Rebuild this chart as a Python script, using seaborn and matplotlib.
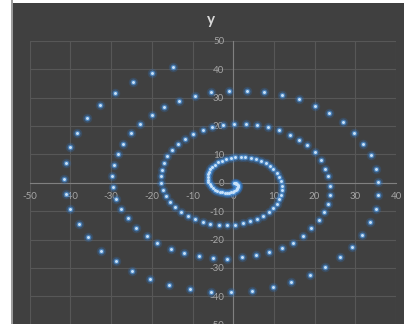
import matplotlib
matplotlib.use("Agg")
import matplotlib.pyplot as plt
from matplotlib.patches import Rectangle
import pandas as pd
import seaborn as sns

# Spiral points, ordered from the centre outwards (clockwise winding)
x_inner = [
    0.1, 0.4, 0.6, 0.8, 1.0, 1.1, 1.1, 1.1, 1.0, 0.9, 0.6, 0.3,
    -0.1, -0.5, -1.0, -1.6, -2.1, -2.7, -3.3, -3.9, -4.5, -5.0, -5.4, -5.8,
    -6.1, -6.2, -6.3, -6.2, -6.0, -5.6, -5.1, -4.4, -3.7, -2.8, -1.8, -0.6,
    0.5, 1.8, 3.0, 4.3, 5.6, 6.8, 8.0, 9.0, 9.9, 10.7, 11.3, 11.8,
    12.0, 12.0, 11.8, 11.3, 10.7, 9.8, 8.7, 7.3, 5.8, 4.2, 2.4, 0.5,
    -1.5, -3.5, -5.6, -7.5, -9.4, -11.2, -12.9, -14.4, -15.6, -16.6, -17.3, -17.7,
    -17.8, -17.6, -17.1, -16.2, -15.1, -13.6, -11.8, -9.8, -7.5, -5.1, -2.5,
]
y_inner = [
    0.0, -0.1, -0.2, -0.3, -0.6, -0.8, -1.2, -1.5, -1.8, -2.2, -2.5, -2.8,
    -3.1, -3.3, -3.5, -3.5, -3.5, -3.4, -3.2, -2.8, -2.4, -1.9, -1.3, -0.5,
    0.2, 1.1, 2.0, 2.9, 3.8, 4.7, 5.6, 6.4, 7.2, 7.8, 8.4, 8.8,
    9.0, 9.1, 9.1, 8.8, 8.3, 7.7, 6.9, 5.9, 4.8, 3.5, 2.1, 0.6,
    -1.0, -2.6, -4.2, -5.9, -7.5, -9.0, -10.4, -11.7, -12.7, -13.6, -14.3, -14.8,
    -14.9, -14.8, -14.5, -13.8, -12.9, -11.7, -10.3, -8.6, -6.7, -4.7, -2.5, -0.2,
    2.2, 4.6, 7.0, 9.3, 11.5, 13.6, 15.5, 17.1, 18.5, 19.6, 20.3,
]
x_outer = [
    0.2, 3.1, 5.8, 8.6, 11.3, 13.9, 16.1, 18.2, 20.0, 21.6, 22.6, 23.4,
    23.9, 23.9, 23.3, 22.4, 21.1, 19.1, 17.1, 14.7, 11.9, 8.9, 5.7, 2.1,
    -1.5, -5.0, -8.5, -12.0, -15.2, -18.6, -21.2, -23.8, -25.9, -27.5, -28.7, -29.5,
    -29.8, -29.3, -28.4, -27.0, -25.2, -22.9, -20.0, -16.9, -13.3, -9.4, -5.4,
    -1.1, 3.4, 7.6, 11.9, 16.1, 20.0, 23.6, 26.9, 29.7, 32.0, 33.8, 35.0,
    35.6, 35.6, 35.0, 33.5, 31.7, 29.3, 26.2, 22.6, 18.8, 14.3, 9.7, 4.6,
    -0.5, -5.5, -10.6, -15.8, -20.4, -24.8, -28.9, -32.5, -35.6, -38.0, -40.0, -41.1,
    -41.5, -41.2, -40.2, -38.4, -36.0, -32.8, -29.1, -24.7, -20.0, -14.7,
]
y_outer = [
    20.7, 20.7, 20.4, 19.6, 18.4, 16.9, 15.2, 13.2, 10.9, 7.9, 5.0, 2.2,
    -1.1, -4.2, -7.4, -10.3, -13.3, -16.0, -18.7, -21.1, -22.9, -24.5, -25.5, -26.3,
    -26.7, -26.4, -25.9, -24.7, -23.2, -21.3, -18.7, -15.8, -12.5, -9.1, -5.6, -1.6,
    2.2, 6.3, 10.0, 13.8, 17.5, 20.7, 24.0, 26.5, 28.8, 30.5, 31.8,
    32.4, 32.4, 32.0, 30.9, 29.5, 27.0, 24.4, 21.3, 17.5, 13.8, 9.6, 4.8,
    0.2, -4.5, -9.1, -13.8, -18.5, -22.5, -26.2, -29.6, -32.5, -34.9, -36.8, -38.0,
    -38.6, -38.4, -37.4, -35.9, -34.0, -31.1, -27.6, -23.9, -19.2, -14.6, -9.4, -4.1,
    1.4, 6.9, 12.4, 17.5, 22.8, 27.4, 31.7, 35.5, 38.7, 40.9,
]

x_ticks = [-50, -40, -30, -20, -10, 0, 10, 20, 30, 40]
y_ticks = [-50, -40, -30, -20, -10, 0, 10, 20, 30, 40, 50]
chart_title = "y"

sns.set_theme(style="dark")
plt.rcParams["font.family"] = ["Lato", "DejaVu Sans"]
plt.rcParams["axes.unicode_minus"] = False

df = pd.DataFrame({"x": x_inner + x_outer, "y": y_inner + y_outer})

W, H = 404, 324
fig = plt.figure(figsize=(W / 100, H / 100), dpi=100, facecolor="white")

# chart area: dark panel with a thin grey edge on the left
fig.add_artist(Rectangle((11 / W, 0), 2 / W, 1, transform=fig.transFigure,
                         facecolor="#9c9c9c", edgecolor="none", zorder=0))
fig.add_artist(Rectangle((13 / W, 0), 1, (H - 3) / H, transform=fig.transFigure,
                         facecolor="#404040", edgecolor="none", zorder=0))

ax = fig.add_axes([29.7 / W, 1 - 324.7 / H, 366.3 / W, 284.0 / H])
ax.set_facecolor("none")

# soft glowing markers: wide faint halo, blue ring, pale centre
layers = [(46, "#2f6fb8", 0.28), (17, "#4f93d8", 0.7), (4.5, "#c8e2fa", 1.0)]
for size, colour, alpha in layers:
    sns.scatterplot(data=df, x="x", y="y", s=size, color=colour, alpha=alpha,
                    linewidth=0, ax=ax, legend=False, zorder=2)

ax.set_xlim(x_ticks[0], x_ticks[-1])
ax.set_ylim(y_ticks[0], y_ticks[-1])
ax.set_xticks(x_ticks)
ax.set_yticks(y_ticks)
ax.set_xlabel("")
ax.set_ylabel("")
ax.grid(False)

for v in x_ticks:
    ax.axvline(v, color="#575757", lw=0.8, zorder=0.5)
for v in y_ticks:
    ax.axhline(v, color="#575757", lw=0.8, zorder=0.5)

for side in ("top", "right"):
    ax.spines[side].set_visible(False)
for side in ("left", "bottom"):
    sp = ax.spines[side]
    sp.set_position(("data", 0))
    sp.set_color("#808080")
    sp.set_linewidth(0.8)
    sp.set_zorder(0.6)

ax.tick_params(axis="both", length=0, labelsize=7, labelcolor="#a6a6a6", pad=6.5)

fig.text(211 / W, 1 - 20 / H, chart_title, ha="center", va="center",
         fontsize=11, fontweight="bold", color="#d9d9d9")

fig.savefig("out.png", dpi=100, facecolor=fig.get_facecolor())
